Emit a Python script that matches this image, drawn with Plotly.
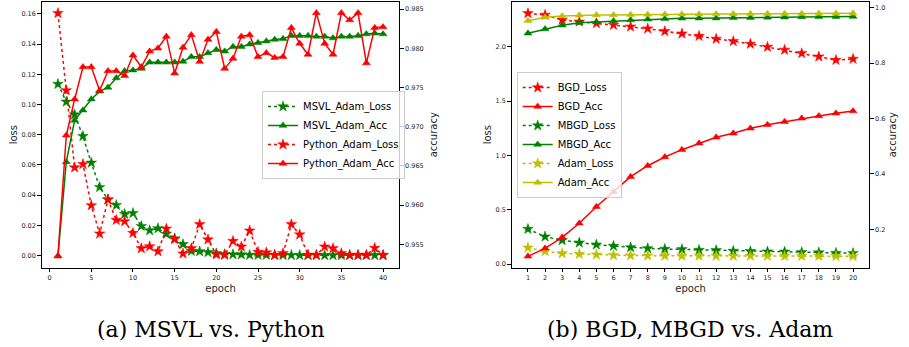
import plotly.graph_objects as go

# ---------------- data: (a) MSVL vs. Python ----------------
epochs_a = list(range(1, 41))
msvl_loss = [0.1135, 0.1018, 0.0933, 0.0790, 0.0614, 0.0453, 0.0372, 0.0334, 0.0275, 0.0281,
             0.0195, 0.0167, 0.0180, 0.0143, 0.0114, 0.0075, 0.0030, 0.0028, 0.0022, 0.0015,
             0.0009, 0.0008, 0.0007, 0.0004, 0.0004, 0.0004, 0.0003, 0.0003, 0.0003, 0.0003,
             0.0003, 0.0003, 0.0002, 0.0002, 0.0002, 0.0002, 0.0002, 0.0002, 0.0002, 0.0002]
msvl_acc = [0.9535, 0.9655, 0.9708, 0.9721, 0.9735, 0.9745, 0.9750, 0.9762, 0.9771, 0.9772,
            0.9774, 0.9782, 0.9782, 0.9782, 0.9782, 0.9783, 0.9789, 0.9789, 0.9794, 0.9798,
            0.9796, 0.9802, 0.9802, 0.9805, 0.9807, 0.9809, 0.9811, 0.9812, 0.9816, 0.9816,
            0.9816, 0.9815, 0.9815, 0.9813, 0.9815, 0.9815, 0.9816, 0.9818, 0.9819, 0.9818]
py_loss = [0.1604, 0.1093, 0.0583, 0.0605, 0.0332, 0.0145, 0.0370, 0.0235, 0.0226, 0.0149,
           0.0048, 0.0061, 0.0028, 0.0178, 0.0108, 0.0013, 0.0048, 0.0207, 0.0106, 0.0007,
           0.0005, 0.0096, 0.0059, 0.0165, 0.0024, 0.0020, 0.0004, 0.0015, 0.0207, 0.0139,
           0.0004, 0.0004, 0.0059, 0.0048, 0.0015, 0.0004, 0.0004, 0.0004, 0.0050, 0.0004]
py_acc = [0.9535, 0.9689, 0.9735, 0.9776, 0.9776, 0.9746, 0.9771, 0.9771, 0.9765, 0.9791,
          0.9776, 0.9796, 0.9800, 0.9815, 0.9768, 0.9801, 0.9817, 0.9783, 0.9811, 0.9821,
          0.9774, 0.9787, 0.9815, 0.9817, 0.9789, 0.9794, 0.9788, 0.9789, 0.9826, 0.9806,
          0.9792, 0.9845, 0.9806, 0.9792, 0.9845, 0.9836, 0.9845, 0.9781, 0.9826, 0.9827]

# ---------------- data: (b) BGD, MBGD vs. Adam ----------------
epochs_b = list(range(1, 21))
bgd_loss = [2.308, 2.293, 2.247, 2.231, 2.216, 2.201, 2.185, 2.167, 2.143, 2.121,
            2.099, 2.072, 2.051, 2.026, 1.998, 1.971, 1.940, 1.909, 1.878, 1.888]
bgd_acc = [0.1025, 0.1314, 0.1711, 0.2217, 0.2816, 0.3357, 0.3899, 0.4296, 0.4610, 0.4875,
           0.5105, 0.5321, 0.5466, 0.5646, 0.5776, 0.5884, 0.6007, 0.6090, 0.6188, 0.6271]
mbgd_loss = [0.322, 0.252, 0.218, 0.196, 0.178, 0.166, 0.153, 0.144, 0.138, 0.135,
             0.129, 0.126, 0.120, 0.117, 0.114, 0.113, 0.108, 0.106, 0.101, 0.100]
mbgd_acc = [0.9075, 0.9231, 0.9365, 0.9459, 0.9484, 0.9520, 0.9556, 0.9580, 0.9600, 0.9617,
            0.9620, 0.9622, 0.9640, 0.9642, 0.9650, 0.9656, 0.9664, 0.9670, 0.9675, 0.9680]
adam_loss = [0.150, 0.117, 0.098, 0.092, 0.086, 0.080, 0.078, 0.077, 0.076, 0.075,
             0.075, 0.074, 0.074, 0.074, 0.074, 0.073, 0.073, 0.073, 0.072, 0.072]
adam_acc = [0.9530, 0.9653, 0.9700, 0.9725, 0.9736, 0.9740, 0.9750, 0.9755, 0.9760, 0.9765,
            0.9768, 0.9772, 0.9775, 0.9778, 0.9780, 0.9783, 0.9786, 0.9790, 0.9794, 0.9798]

ticks_a = [0, 5, 10, 15, 20, 25, 30, 35, 40]
ticks_b = list(range(1, 21))

RED = "#ff0000"
GREEN = "#008000"
YEL = "#bfbf00"
TXT = "#262626"
FONT = "DejaVu Sans"

W, H = 909, 347


def px(x):
    return x / W


def py(y):
    return 1 - y / H


fig = go.Figure()


def add(x, y, name, color, kind, xa, ya, legend):
    if kind == "loss":
        fig.add_trace(go.Scatter(
            x=x, y=y, name=name, mode="lines+markers",
            line=dict(color=color, width=1.5, dash="dot"),
            marker=dict(symbol="star", size=8, color=color, line=dict(width=0.5, color=color)),
            xaxis=xa, yaxis=ya, legend=legend))
    else:
        fig.add_trace(go.Scatter(
            x=x, y=y, name=name, mode="lines+markers",
            line=dict(color=color, width=1.5),
            marker=dict(symbol="triangle-up", size=7, color=color, line=dict(width=0.5, color=color)),
            xaxis=xa, yaxis=ya, legend=legend))


# left chart
add(epochs_a, msvl_loss, "MSVL_Adam_Loss", GREEN, "loss", "x", "y", "legend")
add(epochs_a, py_loss, "Python_Adam_Loss", RED, "loss", "x", "y", "legend")
add(epochs_a, msvl_acc, "MSVL_Adam_Acc", GREEN, "acc", "x", "y2", "legend")
add(epochs_a, py_acc, "Python_Adam_Acc", RED, "acc", "x", "y2", "legend")

# right chart
add(epochs_b, bgd_loss, "BGD_Loss", RED, "loss", "x2", "y3", "legend2")
add(epochs_b, mbgd_loss, "MBGD_Loss", GREEN, "loss", "x2", "y3", "legend2")
add(epochs_b, adam_loss, "Adam_Loss", YEL, "loss", "x2", "y3", "legend2")
add(epochs_b, bgd_acc, "BGD_Acc", RED, "acc", "x2", "y4", "legend2")
add(epochs_b, mbgd_acc, "MBGD_Acc", GREEN, "acc", "x2", "y4", "legend2")
add(epochs_b, adam_acc, "Adam_Acc", YEL, "acc", "x2", "y4", "legend2")

xd_a = [px(41.7), px(399.3)]
xd_b = [px(511.7), px(869.3)]
yd = [py(267.7), py(1.7)]

tickfont = dict(family=FONT, size=6.5, color=TXT)
titlefont = dict(family=FONT, size=10, color=TXT)

common = dict(showline=True, linecolor="#000000", linewidth=1, ticks="outside",
              ticklen=3.5, tickwidth=0.8, tickcolor="#000000", showgrid=False,
              zeroline=False, tickfont=tickfont, automargin=False)

fig.update_layout(
    width=W, height=H,
    margin=dict(l=0, r=0, t=0, b=0),
    paper_bgcolor="white", plot_bgcolor="white",
    xaxis=dict(domain=xd_a, range=[-0.95, 41.95], tickvals=ticks_a, anchor="y",
               mirror=True, title=dict(text="epoch", font=titlefont, standoff=3), **common),
    yaxis=dict(domain=yd, range=[-0.008, 0.168], tickvals=[0, 0.02, 0.04, 0.06, 0.08, 0.10, 0.12, 0.14, 0.16],
               tickformat=".2f", anchor="x", title=dict(text="loss", font=titlefont, standoff=1), **common),
    yaxis2=dict(domain=yd, range=[0.95202, 0.98593], overlaying="y", side="right", anchor="x",
                tickvals=[0.955, 0.960, 0.965, 0.970, 0.975, 0.980, 0.985], tickformat=".3f",
                title=dict(text="accuracy", font=titlefont, standoff=7), **common),
    xaxis2=dict(domain=xd_b, range=[0.05, 20.95], tickvals=ticks_b, anchor="y3",
                mirror=True, title=dict(text="epoch", font=titlefont, standoff=3), **common),
    yaxis3=dict(domain=yd, range=[-0.034, 2.415], tickvals=[0, 0.5, 1.0, 1.5, 2.0], tickformat=".1f",
                anchor="x2", title=dict(text="loss", font=titlefont, standoff=2), **common),
    yaxis4=dict(domain=yd, range=[0.0614, 1.0217], overlaying="y3", side="right", anchor="x2",
                tickvals=[0.2, 0.4, 0.6, 0.8, 1.0], tickformat=".1f",
                title=dict(text="accuracy", font=titlefont, standoff=4), **common),
    legend=dict(x=px(262), y=py(135), xanchor="left", yanchor="middle",
                bgcolor="rgba(255,255,255,0.8)", bordercolor="#cccccc", borderwidth=1,
                font=dict(family=FONT, size=10, color="#000000"), tracegroupgap=0,
                traceorder="normal", itemwidth=30),
    legend2=dict(x=px(516.7), y=py(135), xanchor="left", yanchor="middle",
                 bgcolor="rgba(255,255,255,0.8)", bordercolor="#cccccc", borderwidth=1,
                 font=dict(family=FONT, size=10, color="#000000"), tracegroupgap=0,
                 traceorder="normal", itemwidth=30),
    showlegend=True,
)

# legend order to match reference
order_a = ["MSVL_Adam_Loss", "MSVL_Adam_Acc", "Python_Adam_Loss", "Python_Adam_Acc"]
order_b = ["BGD_Loss", "BGD_Acc", "MBGD_Loss", "MBGD_Acc", "Adam_Loss", "Adam_Acc"]
for tr in fig.data:
    if tr.name in order_a:
        tr.legendrank = order_a.index(tr.name)
    else:
        tr.legendrank = order_b.index(tr.name)

cap_font = dict(family="DejaVu Serif", size=22, color="#000000")
fig.add_annotation(text="(a) MSVL vs. Python", xref="paper", yref="paper",
                   x=px(211), y=py(329), xanchor="center", yanchor="middle",
                   showarrow=False, font=cap_font)
fig.add_annotation(text="(b) BGD, MBGD vs. Adam", xref="paper", yref="paper",
                   x=px(690), y=py(329), xanchor="center", yanchor="middle",
                   showarrow=False, font=cap_font)

fig.write_html("out.html", config={"displayModeBar": False},
               post_script="document.body.style.margin='0';document.body.style.overflow='hidden';")
